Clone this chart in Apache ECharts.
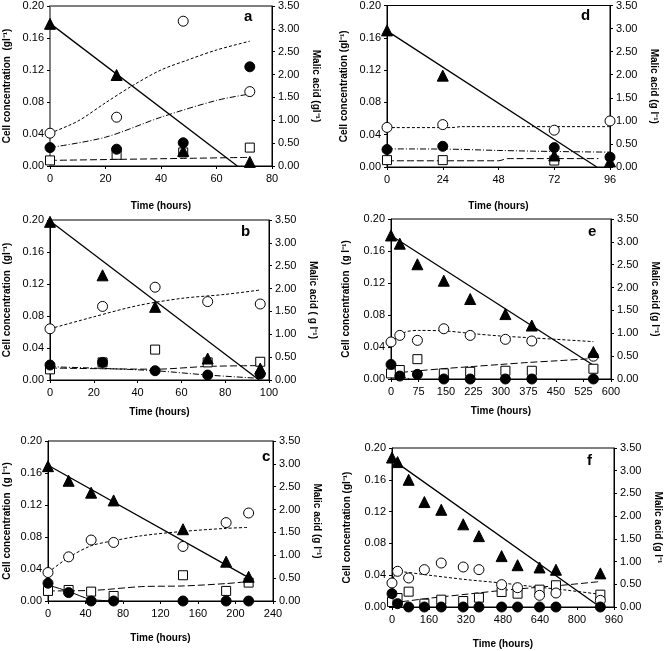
<!DOCTYPE html>
<html>
<head>
<meta charset="utf-8">
<script src="https://cdn.jsdelivr.net/npm/echarts@6/dist/echarts.min.js"></script>
<style>
html, body { margin: 0; padding: 0; background: #fff; }
#chart { width: 664px; height: 651px; }
</style>
</head>
<body>
<div id="chart"></div>
<script>
// ---- panel a ----
var aTime = [0, 24, 48, 72];
var aMalic = [3.11, 1.99, 0.33, 0.09];
var aOpen = [0.041, 0.061, 0.181, 0.093];
var aFilled = [0.023, 0.021, 0.029, 0.124];
var aSquare = [0.007, 0.014, 0.017, 0.023];
var aMalicFit = [[0, 3.12], [67.5, 0]];
var aOpenFit = [[0, 0.041], [10, 0.056], [20, 0.079], [30, 0.101], [40, 0.12], [50, 0.133], [60, 0.145], [72, 0.156]];
var aFilledFit = [[0, 0.023], [20, 0.036], [40, 0.061], [60, 0.082], [72, 0.09]];
var aSquareFit = [[0, 0.007], [48, 0.0095], [72, 0.0108]];

// ---- panel d ----
var dTime = [0, 24, 72, 96];
var dMalic = [2.96, 1.98, 0.25, 0.12];
var dOpen = [0.049, 0.0525, 0.0456, 0.057];
var dFilled = [0.0216, 0.0256, 0.024, 0.0122];
var dSquare = [0.0085, 0.0085, 0.008, null];
var dMalicFit = [[0, 2.95], [90.3, 0]];
var dOpenFit = [[0, 0.0488], [28, 0.0488], [32, 0.05], [96, 0.05]];
var dFilledFit = [[0, 0.0224], [24, 0.0222], [48, 0.0205], [72, 0.0192], [96, 0.0184]];
var dSquareFit = [[0, 0.0077], [48, 0.0077], [52, 0.0104], [91, 0.0104]];

// ---- panel b ----
var bTime = [0, 24, 48, 72, 96];
var bMalic = [3.46, 2.29, 1.6, 0.47, 0.25];
var bOpen = [0.064, 0.092, 0.116, 0.098, 0.095];
var bFilled = [0.0187, 0.022, 0.0116, 0.0062, 0.0075];
var bSquare = [0.0133, 0.022, 0.038, 0.022, 0.0228];
var bMalicFit = [[0, 3.48], [95.5, 0]];
var bOpenFit = [[0, 0.064], [20, 0.079], [40, 0.093], [60, 0.102], [80, 0.107], [96, 0.1125]];
var bFilledFit = [[0, 0.0166], [24, 0.0145], [48, 0.0116], [72, 0.0062], [96, 0.002]];
var bSquareFit = [[0, 0.015], [48, 0.0135], [72, 0.017], [96, 0.018]];

// ---- panel e ----
var eTime = [0, 24, 72, 144, 216, 312, 384, 552];
var eMalic = [3.14, 2.96, 2.51, 2.15, 1.75, 1.42, 1.17, 0.59];
var eOpen = [0.0463, 0.0545, 0.0483, 0.0628, 0.0545, 0.0496, 0.0475, 0.0285];
var eFilled = [0.0182, 0.0037, 0.0058, 0, 0, 0, 0, 0];
var eSquare = [0.007, 0.0112, 0.0248, 0.007, 0.009, 0.0103, 0.0103, 0.0128];
var eMalicFit = [[0, 3.14], [552, 0.3]];
var eOpenFit = [[0, 0.0463], [40, 0.0587], [75, 0.0607], [150, 0.06], [225, 0.0566], [300, 0.0537], [375, 0.0517], [450, 0.0496], [552, 0.0467]];
var eFilledFit = [[0, 0.0174], [24, 0.005], [50, 0]];
var eSquareFit = [[0, 0.007], [75, 0.0103], [150, 0.0132], [225, 0.0157], [300, 0.0182], [375, 0.0207], [450, 0.0227], [552, 0.0256]];

// ---- panel c ----
var cTime = [0, 22, 46, 70, 144, 190, 214];
var cMalic = [2.95, 2.63, 2.37, 2.2, 1.57, 0.86, 0.53];
var cOpen = [0.0356, 0.0552, 0.0762, 0.0732, 0.0682, 0.098, 0.11];
var cFilled = [0.0222, 0.0105, 0, 0, 0, 0, 0];
var cSquare = [0.0126, 0.0138, 0.0117, 0.0063, 0.0322, 0.0126, 0.023];
var cMalicFit = [[0, 2.97], [214, 0.51]];
var cOpenFit = [[0, 0.0356], [22, 0.0544], [46, 0.069], [70, 0.0753], [100, 0.0816], [144, 0.087], [190, 0.0908], [214, 0.092]];
var cFilledFit = [[0, 0.02], [22, 0.012], [46, 0.002], [80, 0]];
var cSquareFit = [[0, 0.0126], [50, 0.0134], [100, 0.018], [144, 0.0188], [190, 0.0218], [214, 0.0243]];

// ---- panel f ----
var fTime = [0, 24, 72, 140, 213, 308, 376, 474, 543, 638, 709, 901];
var fMalic = [3.29, 3.19, 2.8, 2.31, 2.14, 1.82, 1.56, 1.12, 0.92, 0.87, 0.82, 0.74];
var fOpen = [0.0302, 0.0449, 0.0365, 0.047, 0.0553, 0.0503, 0.047, 0.0281, 0.0243, 0.0147, 0.0176, 0.0084];
var fFilled = [0.0168, 0.0042, 0, 0, 0, 0, 0, 0, 0, 0, 0, 0];
var fSquare = [0.0063, 0.0113, 0.0193, 0.0042, 0.0092, 0.0075, 0.0117, 0.0189, 0.0168, 0.0218, 0.0273, 0.0155];
var fMalicFit = [[0, 3.25], [880, 0.07], [912, 0.07]];
var fOpenFit = [[0, 0.03], [24, 0.0445], [160, 0.04], [320, 0.0345], [480, 0.03], [600, 0.026], [760, 0.021], [900, 0.016]];
var fFilledFit = [[0, 0.017], [24, 0.005], [40, 0]];
var fSquareFit = [[0, 0.005], [160, 0.011], [320, 0.016], [480, 0.021], [600, 0.024], [760, 0.028], [900, 0.032]];

var FONT = "'Liberation Sans', Arial, sans-serif";
var chart = echarts.init(document.getElementById('chart'));
var grids = [], xAxes = [], yAxes = [], series = [], graphics = [];

function zip(t, v) {
    var out = [];
    for (var i = 0; i < t.length; i++) {
        if (v[i] != null) out.push([t[i], v[i]]);
    }
    return out;
}

function addPanel(p) {
    var gi = grids.length;
    grids.push({
        left: p.box[0], top: p.box[1], width: p.box[2], height: p.box[3],
        show: true, borderColor: '#000', borderWidth: 1, backgroundColor: 'transparent'
    });
    xAxes.push({
        gridIndex: gi, type: 'value', min: 0, max: p.xMax, interval: p.xInt,
        name: 'Time (hours)', nameLocation: 'middle', nameGap: p.xGap,
        nameTextStyle: {fontFamily: FONT, fontWeight: 'bold', fontSize: 10, color: '#000', verticalAlign: 'top'},
        axisLine: {onZero: false, lineStyle: {color: '#000', width: 1}},
        axisTick: {inside: false, length: 3, lineStyle: {color: '#000'}},
        axisLabel: {margin: 7, fontFamily: FONT, fontSize: 11, color: '#000'},
        splitLine: {show: false}
    });
    var li = yAxes.length;
    yAxes.push({
        gridIndex: gi, type: 'value', position: 'left', min: 0, max: 0.2, interval: 0.04,
        name: p.leftName, nameLocation: 'middle', nameGap: p.lGap,
        nameTextStyle: {fontFamily: FONT, fontWeight: 'bold', fontSize: 10, color: '#000'},
        axisLine: {show: true, onZero: false, lineStyle: {color: p.leftColor || '#000', width: p.leftWidth || 1}},
        axisTick: {length: 3, lineStyle: {color: '#000'}},
        axisLabel: {margin: 6, fontFamily: FONT, fontSize: 11, color: '#000',
            formatter: function (v) { return v.toFixed(2); }},
        splitLine: {show: false}
    });
    yAxes.push({
        gridIndex: gi, type: 'value', position: 'right', min: 0, max: 3.5, interval: 0.5,
        name: p.rightName, nameLocation: 'middle', nameGap: p.rGap, nameRotate: -90,
        nameTextStyle: {fontFamily: FONT, fontWeight: 'bold', fontSize: 10, color: '#000'},
        axisLine: {show: true, onZero: false, lineStyle: {color: '#000', width: 1}},
        axisTick: {length: 3, lineStyle: {color: '#000'}},
        axisLabel: {margin: 6, fontFamily: FONT, fontSize: 11, color: '#000',
            formatter: function (v) { return v.toFixed(2); }},
        splitLine: {show: false}
    });
    var ri = li + 1;

    function fit(data, yi, type, width, smooth) {
        series.push({
            type: 'line', xAxisIndex: gi, yAxisIndex: yi, data: data,
            showSymbol: false, symbol: 'none', smooth: smooth, silent: true, z: 2,
            lineStyle: {color: '#000', width: width, type: type}
        });
    }
    fit(p.malicFit, ri, 'solid', 1.3, false);
    fit(p.openFit, li, [3, 2], 1, 0.3);
    fit(p.filledFit, li, p.filledDash || [6, 2, 1, 2], 1, 0.3);
    fit(p.squareFit, li, [7, 3], 1, 0.3);

    function pts(data, yi, symbol, size, fill) {
        series.push({
            type: 'scatter', xAxisIndex: gi, yAxisIndex: yi, data: data,
            symbol: symbol, symbolSize: size, z: 5,
            itemStyle: {color: fill, borderColor: '#000', borderWidth: 1, opacity: 1}
        });
    }
    pts(zip(p.time, p.square), li, 'rect', 9, '#fff');
    pts(zip(p.time, p.open), li, 'circle', 10, '#fff');
    pts(zip(p.time, p.filled), li, 'circle', 10, '#000');
    pts(zip(p.time, p.malic), ri, 'triangle', 11, '#000');

    graphics.push({
        type: 'text', left: p.letterPos[0], top: p.letterPos[1],
        style: {text: p.letter, fontFamily: FONT, fontWeight: 'bold', fontSize: 15, fill: '#000'}
    });
}

addPanel({
    letter: 'a', letterPos: [244, 9], box: [50, 6, 222, 160], xMax: 80, xInt: 20,
    time: aTime, malic: aMalic, open: aOpen, filled: aFilled, square: aSquare,
    malicFit: aMalicFit, openFit: aOpenFit, filledFit: aFilledFit, squareFit: aSquareFit,
    leftName: 'Cell concentration  (gl⁻¹)', rightName: 'Malic acid (gl⁻¹)',
    lGap: 38, rGap: 39, xGap: 35, leftColor: '#808080', leftWidth: 2
});
addPanel({
    letter: 'd', letterPos: [581, 8], box: [387, 4, 223, 163], xMax: 96, xInt: 24,
    time: dTime, malic: dMalic, open: dOpen, filled: dFilled, square: dSquare,
    malicFit: dMalicFit, openFit: dOpenFit, filledFit: dFilledFit, squareFit: dSquareFit,
    leftName: 'Cell concentration (gl⁻¹)', rightName: 'Malic acid (g l⁻¹)',
    lGap: 38, rGap: 39, xGap: 34
});
addPanel({
    letter: 'b', letterPos: [241, 224], box: [50, 220, 219, 160], xMax: 100, xInt: 20,
    time: bTime, malic: bMalic, open: bOpen, filled: bFilled, square: bSquare,
    malicFit: bMalicFit, openFit: bOpenFit, filledFit: bFilledFit, squareFit: bSquareFit,
    leftName: 'Cell concentration  (gl⁻¹)', rightName: 'Malic acid ( g l⁻¹)',
    lGap: 38, rGap: 39, xGap: 27
});
addPanel({
    letter: 'e', letterPos: [588, 224], box: [391, 219, 220, 160], xMax: 600, xInt: 75,
    time: eTime, malic: eMalic, open: eOpen, filled: eFilled, square: eSquare,
    malicFit: eMalicFit, openFit: eOpenFit, filledFit: eFilledFit, squareFit: eSquareFit,
    leftName: 'Cell concentration  (g l⁻¹)', rightName: 'Malic acid (g l⁻¹)',
    lGap: 40, rGap: 39, xGap: 27
});
addPanel({
    letter: 'c', letterPos: [262, 449], box: [48, 441, 225, 160], xMax: 240, xInt: 40,
    time: cTime, malic: cMalic, open: cOpen, filled: cFilled, square: cSquare,
    malicFit: cMalicFit, openFit: cOpenFit, filledFit: cFilledFit, squareFit: cSquareFit,
    leftName: 'Cell concentration  (g l⁻¹)', rightName: 'Malic acid (g l⁻¹)',
    lGap: 36, rGap: 39, xGap: 32, filledDash: 'solid'
});
addPanel({
    letter: 'f', letterPos: [587, 453], box: [392, 448, 226, 159], xMax: 960, xInt: 160,
    time: fTime, malic: fMalic, open: fOpen, filled: fFilled, square: fSquare,
    malicFit: fMalicFit, openFit: fOpenFit, filledFit: fFilledFit, squareFit: fSquareFit,
    leftName: 'Cell concentration (gl⁻¹)', rightName: 'Malic acid (g l⁻¹',
    lGap: 40, rGap: 39, xGap: 32
});

chart.setOption({
    animation: false,
    backgroundColor: '#fff',
    grid: grids,
    xAxis: xAxes,
    yAxis: yAxes,
    series: series,
    graphic: graphics
});
</script>
</body>
</html>
